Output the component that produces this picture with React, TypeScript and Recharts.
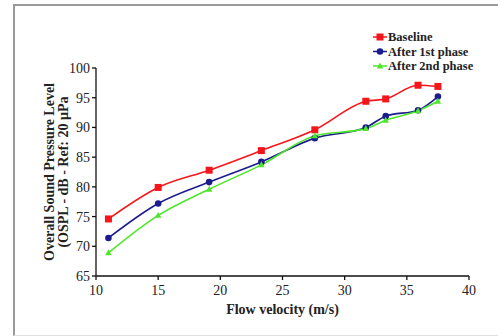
import React from "react";
import { CartesianGrid, Line, LineChart, XAxis, YAxis } from "recharts";

// flow velocity (m/s)
const velocity = [11, 15, 19.1, 23.3, 27.6, 31.7, 33.3, 35.9, 37.5];
// OSPL (dB)
const baseline = [74.6, 79.9, 82.8, 86.1, 89.6, 94.4, 94.8, 97.1, 96.9];
const afterFirst = [71.4, 77.2, 80.8, 84.2, 88.2, 90.0, 91.9, 92.9, 95.2];
const afterSecond = [68.9, 75.2, 79.6, 83.7, 88.6, 89.8, 91.2, 92.8, 94.4];

const xTicks = [10, 15, 20, 25, 30, 35, 40];
const yTicks = [65, 70, 75, 80, 85, 90, 95, 100];

const SERIES = [
  { key: "baseline", name: "Baseline", color: "#f5161b", marker: "square" },
  { key: "afterFirst", name: "After 1st phase", color: "#1c1c8e", marker: "circle" },
  { key: "afterSecond", name: "After 2nd phase", color: "#4ee62a", marker: "triangle" },
] as const;

const data = velocity.map((v, i) => ({
  v,
  baseline: baseline[i],
  afterFirst: afterFirst[i],
  afterSecond: afterSecond[i],
}));

const FONT = '"Liberation Serif", "DejaVu Serif", serif';

function Marker({ kind, cx, cy, color }: { kind: string; cx: number; cy: number; color: string }) {
  if (kind === "square") {
    return <rect x={cx - 3.5} y={cy - 3.5} width={7} height={7} fill={color} />;
  }
  if (kind === "circle") {
    return <circle cx={cx} cy={cy} r={3.3} fill={color} />;
  }
  return (
    <polygon
      points={`${cx},${cy - 3.5} ${cx + 3.2},${cy + 2.4} ${cx - 3.2},${cy + 2.4}`}
      fill={color}
    />
  );
}

function makeDot(kind: string, color: string) {
  return (p: any) => {
    if (p.cx == null || p.cy == null) return <g key={p.key} />;
    return (
      <g key={p.key}>
        <Marker kind={kind} cx={p.cx} cy={p.cy} color={color} />
      </g>
    );
  };
}

function XTick(props: any) {
  const { x, y, payload } = props;
  return (
    <text x={x} y={y + 13} textAnchor="middle" fontFamily={FONT} fontSize={14} fill="#222">
      {payload.value}
    </text>
  );
}

function YTick(props: any) {
  const { x, y, payload } = props;
  return (
    <text x={x} y={y + 5} textAnchor="end" fontFamily={FONT} fontSize={14} fill="#222">
      {payload.value}
    </text>
  );
}

function YTitle(props: any) {
  const vb = props.viewBox;
  const cy = vb.y + vb.height / 2;
  return (
    <g>
      <text
        transform={`translate(54, ${cy}) rotate(-90)`}
        textAnchor="middle"
        fontFamily={FONT}
        fontSize={14}
        fontWeight="bold"
        fill="#222"
      >
        Overall Sound Pressure Level
      </text>
      <text
        transform={`translate(68, ${cy}) rotate(-90)`}
        textAnchor="middle"
        fontFamily={FONT}
        fontSize={14}
        fontWeight="bold"
        fill="#222"
      >
        (OSPL - dB - Ref: 20 µPa
      </text>
    </g>
  );
}

function LegendBox() {
  return (
    <svg
      width={130}
      height={48}
      style={{ position: "absolute", left: 368, top: 28, overflow: "visible" }}
    >
      {SERIES.map((s, i) => {
        const y = 9 + i * 14.5;
        return (
          <g key={s.key}>
            <line x1={5} x2={19} y1={y} y2={y} stroke={s.color} strokeWidth={1.5} />
            <Marker kind={s.marker} cx={12} cy={y} color={s.color} />
            <text
              x={20}
              y={y + 4}
              fontFamily={FONT}
              fontSize={12.5}
              fontWeight="bold"
              fill="#222"
            >
              {s.name}
            </text>
          </g>
        );
      })}
    </svg>
  );
}

export default function App() {
  return (
    <div
      style={{
        position: "absolute",
        left: 0,
        top: 0,
        width: 498,
        height: 336,
        background: "#fff",
        overflow: "hidden",
      }}
    >
      <div
        style={{
          position: "absolute",
          left: 13,
          top: 4,
          width: 500,
          height: 329,
          borderLeft: "2px solid #9a9a9a",
          borderTop: "2px solid #9a9a9a",
          borderBottom: "1px solid #e2e2e2",
        }}
      />
      <div style={{ position: "absolute", left: 0, top: 0 }}>
        <LineChart
          width={498}
          height={336}
          data={data}
          margin={{ top: 68, right: 29, bottom: 30, left: 46 }}
        >
          <CartesianGrid stroke="none" />
          <XAxis
            dataKey="v"
            type="number"
            domain={[10, 40]}
            ticks={xTicks}
            interval={0}
            height={30}
            tickSize={4}
            stroke="#111"
            strokeWidth={1.3}
            tick={<XTick />}
            label={{
              value: "Flow velocity (m/s)",
              position: "insideBottom",
              offset: -8,
              fontFamily: FONT,
              fontSize: 14,
              fontWeight: "bold",
              fill: "#222",
            }}
          />
          <YAxis
            type="number"
            domain={[65, 100]}
            ticks={yTicks}
            interval={0}
            width={50}
            tickSize={4}
            stroke="#111"
            strokeWidth={1.3}
            tick={<YTick />}
            label={<YTitle />}
          />
          {SERIES.map((s) => (
            <Line
              key={s.key}
              dataKey={s.key}
              name={s.name}
              type="monotone"
              stroke={s.color}
              strokeWidth={1.6}
              dot={makeDot(s.marker, s.color)}
              activeDot={false}
              isAnimationActive={false}
            />
          ))}
        </LineChart>
      </div>
      <LegendBox />
    </div>
  );
}
